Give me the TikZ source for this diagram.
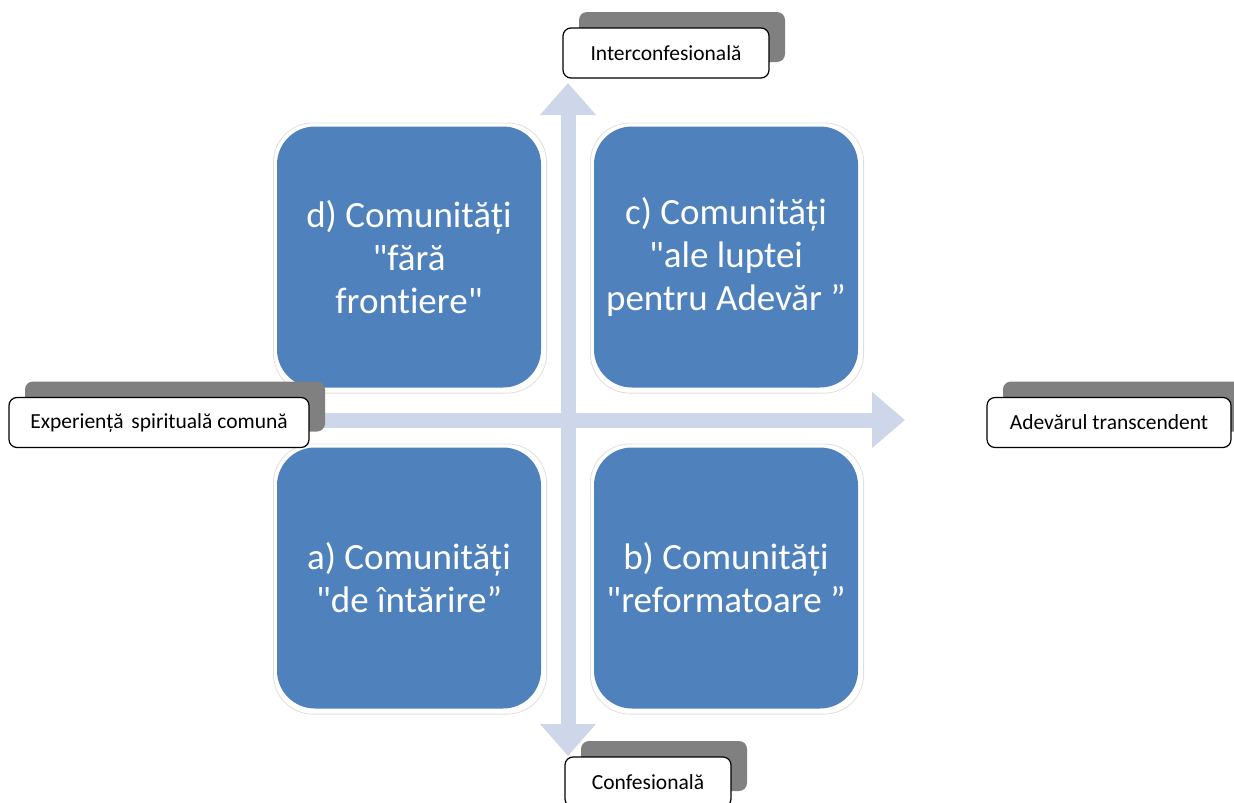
\documentclass[tikz,border=0pt]{standalone}
\usepackage{fontspec}
\setmainfont{Carlito}[Ligatures={TeXOff,NoCommon}]
\usetikzlibrary{arrows.meta,shadows}
\pgfdeclarelayer{bg}
\pgfsetlayers{bg,main}
\definecolor{qblue}{RGB}{79,129,189}
\definecolor{arrowc}{RGB}{206,215,233}
\definecolor{shgray}{RGB}{128,128,128}
\begin{document}
\begin{tikzpicture}[x=1pt,y=-1pt,
  quad/.style={rounded corners=38pt, fill=qblue, draw=none,
    minimum width=264pt, minimum height=261pt, inner sep=0pt,
    text=white, align=center,
    font=\fontsize{37}{43}\selectfont,
    general shadow={fill=white, draw=black!12, line width=0.8pt, shadow scale=1.035, shadow xshift=1pt, shadow yshift=-1pt}},
  lab/.style={draw=black, line width=1.2pt, fill=white, rounded corners=8pt,
    minimum height=50pt, inner sep=0pt,
    font=\fontsize{21.5}{24}\selectfont,
    general shadow={fill=shgray, draw=none, shadow xshift=16pt, shadow yshift=16pt}},
  axis/.style={draw=arrowc, line width=15pt}]
\useasboundingbox (0,0) rectangle (1234,803);

% quadrants
\node[quad] (d) at (409,257) {d) Comunități\\"fără\\frontiere"};
\node[quad] (c) at (726,257) {c) Comunități\\"ale luptei\\pentru Adevăr ”};
\node[quad] (a) at (409,578) {a) Comunități\\"de întărire”};
\node[quad] (b) at (726,578) {b) Comunități\\"reformatoare ”};

% labels
\node[lab, minimum width=206pt] (inter) at (666,53) {Interconfesională\hspace{10pt}};
\node[lab, minimum width=300pt] (exp) at (159,422.5) {Experiență\hspace{3pt} spirituală comună};
\node[lab, minimum width=244pt] (adev) at (1109,422.5) {Adevărul transcendent};
\node[lab, minimum width=166pt] (conf) at (648,782) {Confesională};

% axes
\coordinate (vtop) at (568,83);
\coordinate (vbot) at (568,756);
\coordinate (hstart) at (290,420);
\coordinate (htip) at (905,420);
\begin{pgfonlayer}{bg}
\draw[axis, {Triangle[width=54pt,length=32pt]}-{Triangle[width=54pt,length=32pt]}] (vbot) -- (vtop);
\draw[axis, -{Triangle[width=54pt,length=33pt]}] (hstart) -- (htip);
\end{pgfonlayer}
\end{tikzpicture}
\end{document}
